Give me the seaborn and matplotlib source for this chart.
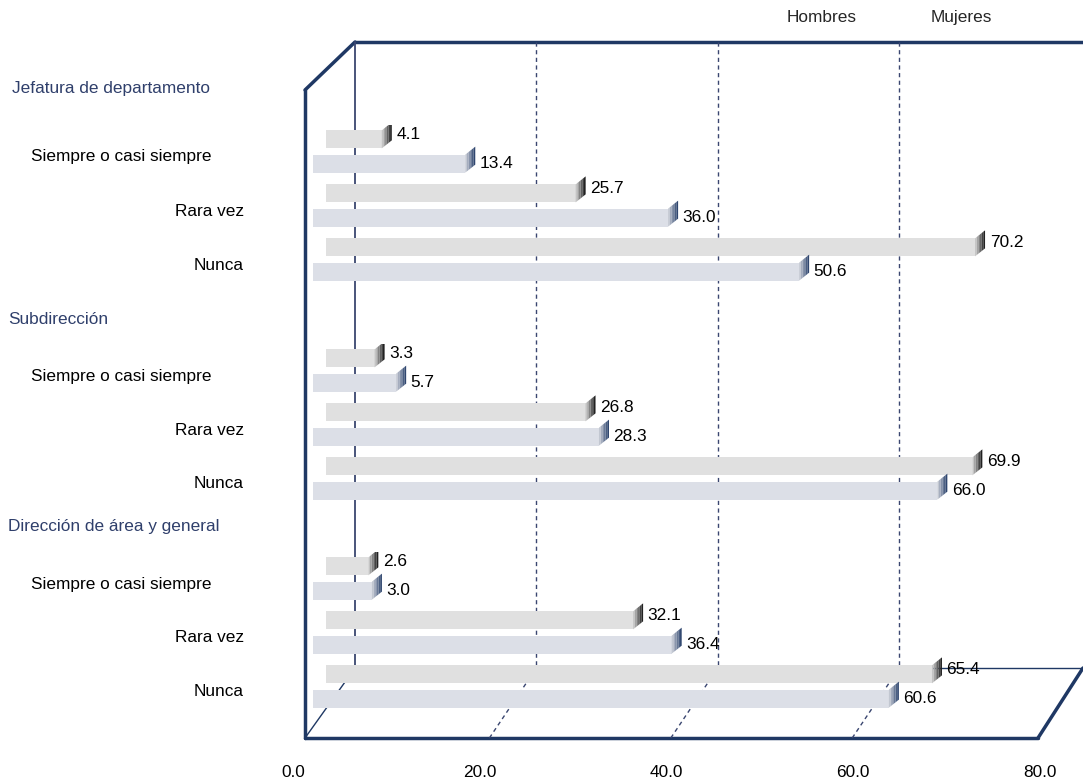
import numpy as np
import pandas as pd
import matplotlib.pyplot as plt
import matplotlib.transforms as mtransforms
from matplotlib.colors import to_rgb
import seaborn as sns

sns.set_theme(style="white")
plt.rcParams['font.family'] = ['Liberation Sans', 'DejaVu Sans']

# Datos (porcentajes)
niveles = ['Jefatura de departamento', 'Subdirección', 'Dirección de área y general']
frecuencias = ['Siempre o casi siempre', 'Rara vez', 'Nunca']
sexos = ['Hombres', 'Mujeres']
hombres = [[4.1, 25.7, 70.2],
           [3.3, 26.8, 69.9],
           [2.6, 32.1, 65.4]]
mujeres = [[13.4, 36.0, 50.6],
           [5.7, 28.3, 66.0],
           [3.0, 36.4, 60.6]]
ticks_x = [0, 20, 40, 60, 80]

W, H = 1083, 783
fs = 12.4
navy = '#1f3864'
grid_col = '#3a4670'
colores = {'Hombres': '#e0e0e0', 'Mujeres': '#dcdfe7'}
oscuro = {'Hombres': '#111111', 'Mujeres': navy}

fig = plt.figure(figsize=(W / 100, H / 100), dpi=100)

# marco "3D" (en pixeles)
bg = fig.add_axes([0, 0, 1, 1], zorder=0)
bg.set_xlim(0, W)
bg.set_ylim(H, 0)
bg.axis('off')
back_x = lambda v: 355 + v * 9.07
bg.plot([305, 305], [90, 738], color=navy, lw=2.5)
bg.plot([305, 355], [90, 42], color=navy, lw=2.5)
bg.plot([355, W], [42, 42], color=navy, lw=2.5)
bg.plot([305, 1038], [738, 738], color=navy, lw=2.5)
bg.plot([1038, 1083], [738, 668], color=navy, lw=2.5)
bg.plot([355, 355], [42, 668], color=grid_col, lw=1.3)
bg.plot([305, 355], [738, 668], color=navy, lw=1.0)
bg.plot([355, W], [668, 668], color=navy, lw=1.0)
for v in ticks_x[1:-1]:
    xb = back_x(v)
    bg.plot([xb, xb], [42, 668], color=grid_col, lw=1.0, dashes=(3, 2.5))
    bg.plot([xb - 47, xb], [738, 668], color=grid_col, lw=1.0, dashes=(3, 2.5))

# eje de valores (frente)
axf = fig.add_axes([293 / W, (H - 738) / H, (1040 - 293) / W, 0.001], zorder=1)
axf.set_xlim(0, 80)
axf.set_xticks(ticks_x)
axf.set_xticklabels([f'{v:.1f}' for v in ticks_x])
axf.set_yticks([])
axf.patch.set_visible(False)
for s in axf.spines.values():
    s.set_visible(False)
axf.tick_params(axis='x', length=0, pad=19.5, labelsize=fs, colors='black')

# barras por nivel
cat_top = [124.5, 343.5, 551.5]
titulo_y = [88, 319, 527]
titulo_x = [12, 8, 8]
x0_px, zero_px, escala = 305, 345, 8.975
inicio = {'Hombres': -2.1, 'Mujeres': -3.55}
handles, labels = None, None

for i, nivel in enumerate(niveles):
    df = pd.DataFrame({
        'frecuencia': frecuencias * 2,
        'sexo': ['Hombres'] * 3 + ['Mujeres'] * 3,
        'valor': hombres[i] + mujeres[i],
    })
    top = cat_top[i]
    ax = fig.add_axes([x0_px / W, (H - top - 162) / H, (W - x0_px) / W, 162 / H], zorder=2)
    sns.barplot(data=df, y='frecuencia', x='valor', hue='sexo', order=frecuencias,
                hue_order=sexos, palette=colores, saturation=1, width=0.9, gap=0.26,
                errorbar=None, orient='h', linewidth=0, ax=ax, legend=(i == 0))
    if i == 0:
        handles, labels = ax.get_legend_handles_labels()
        ax.get_legend().remove()
    ax.set_xlim((x0_px - zero_px) / escala, (W - zero_px) / escala)
    ax.set_ylim(2.5, -0.5)
    ax.patch.set_visible(False)
    for s in ax.spines.values():
        s.set_visible(False)
    ax.set_xticks([])
    ax.set_xlabel('')
    ax.set_ylabel('')
    ax.tick_params(axis='y', length=0, pad=44, labelsize=fs, colors='black')

    dx = 10 / escala
    dy = 8 / 54
    for sexo, cont in zip(sexos, ax.containers):
        for p in cont:
            x1 = p.get_x() + p.get_width()
            p.set_x(inicio[sexo])
            p.set_width(x1 - inicio[sexo])
            y0, h = p.get_y(), p.get_height()
            c1 = np.array(to_rgb(colores[sexo])) * 0.95
            c2 = np.array(to_rgb(oscuro[sexo]))
            n = 6
            for k in range(n):
                a, b = x1 + dx * k / n, x1 + dx * (k + 1) / n
                ya, yb = dy * k / n, dy * (k + 1) / n
                col = c1 + (c2 - c1) * (k + 0.5) / n
                ax.fill([a, b, b, a], [y0 - ya, y0 - yb, y0 + h - yb, y0 + h - ya],
                        color=col, lw=0, zorder=3)
        anns = ax.bar_label(cont, fmt='%.1f', padding=10.5, fontsize=fs, color='black')
        if sexo == 'Hombres':
            for t in anns:
                t.xyann = (10.5, 3.5)

    for lab in ax.get_yticklabels():
        extra = -32 if lab.get_text() == 'Siempre o casi siempre' else 0
        off = mtransforms.ScaledTranslation(extra / 100, -4 / 100, fig.dpi_scale_trans)
        lab.set_transform(lab.get_transform() + off)

    fig.text(titulo_x[i] / W, 1 - titulo_y[i] / H, nivel, color='#2f3f6b',
             fontsize=fs, ha='left', va='center')

leg = fig.legend(handles, labels, loc='center', bbox_to_anchor=(889 / W, 1 - 17 / H),
                 ncol=2, frameon=False, handlelength=0, handletextpad=0,
                 columnspacing=4.3, fontsize=fs)
for h in leg.legend_handles:
    h.set_visible(False)

fig.savefig('out.png', dpi=100)
